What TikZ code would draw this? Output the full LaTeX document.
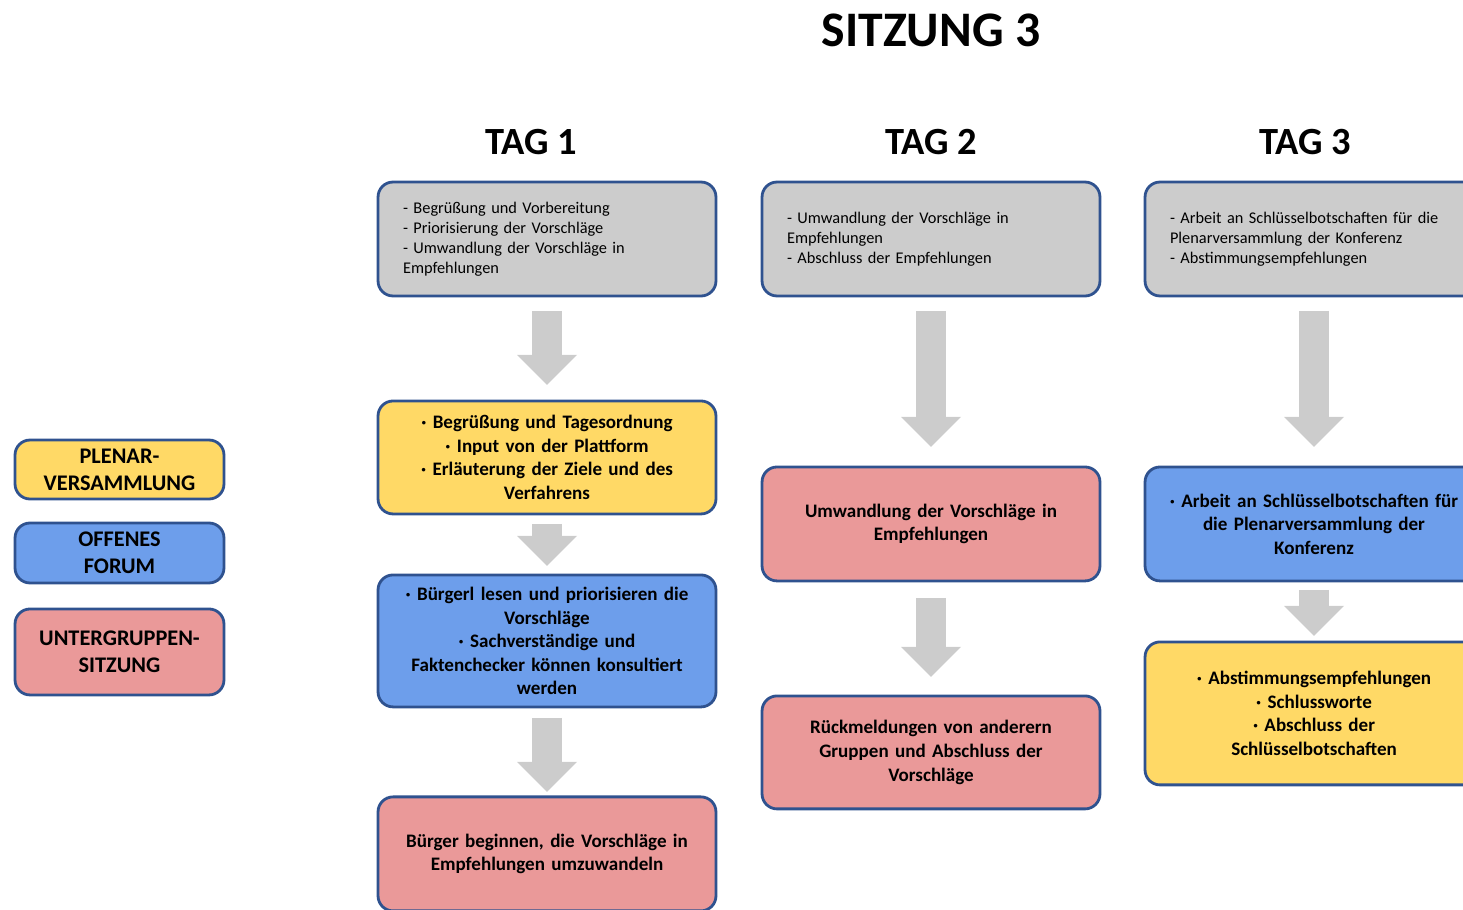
\documentclass[tikz,border=0pt]{standalone}
\usepackage{fontspec}
\setmainfont{Carlito}
\usepackage{xcolor}
\usepackage{tikz}
\usetikzlibrary{positioning}
\usetikzlibrary{arrows.meta}
\definecolor{boxgray}{HTML}{CCCCCC}
\definecolor{boxline}{HTML}{2F528F}
\definecolor{plenar}{HTML}{FFD966}
\definecolor{forum}{HTML}{6D9EEB}
\definecolor{gruppe}{HTML}{EA9999}
\tikzstyle{arrow} = [draw=boxgray, line width=0.6cm, -{Triangle[width=1.2cm,length=0.6cm,line width=0pt]}]
\tikzstyle{box} = [draw=boxline, line width=1.6pt, rounded corners=0.3cm, outer sep=0pt, inner ysep=0pt]
\tikzstyle{info} = [box, fill=boxgray, align=left, text width=5.76cm, inner xsep=0.5cm, minimum height=2.28cm, font=\fontsize{9.3}{11.4}\selectfont]
\tikzstyle{stage} = [box, align=center, text width=6.46cm, inner xsep=0.15cm, font=\fontsize{10.85}{13.4}\selectfont\bfseries]
\tikzstyle{legend} = [draw=boxline, line width=1.6pt, rounded corners=0.3cm, outer sep=0pt, minimum width=4.18cm, align=center, font=\fontsize{12.7}{15.4}\selectfont\bfseries]
\tikzstyle{title} = [font=\fontsize{28.3}{34}\selectfont\bfseries]
\tikzstyle{day} = [font=\fontsize{21.9}{26}\selectfont\bfseries]

\begin{document}
\begin{tikzpicture}[x=0.02cm, y=-0.02cm]
	\clip (0,0) rectangle (1463,909);
	
	%Titles
	\node[title] (sitzung) at (931,30) {SITZUNG 3};
	\node[day] (tag1) at (531,142) {TAG 1};
	\node[day] (tag2) at (931,142) {TAG 2};
	\node[day] (tag3) at (1305,142) {TAG 3};
	
	%Legend
	\node[legend, fill=plenar, minimum height=1.18cm] (lplenar) at (119.5,469.5) {PLENAR-\\VERSAMMLUNG};
	\node[legend, fill=forum, minimum height=1.2cm, below=0.48cm of lplenar] (lforum) {OFFENES\\FORUM};
	\node[legend, fill=gruppe, minimum height=1.72cm, below=0.52cm of lforum] (lgruppe) {UNTERGRUPPEN-\\SITZUNG};
	
	%Nodes
	\node[info] (g1) at (547,239) {- Begrüßung und Vorbereitung\\- Priorisierung der Vorschläge\\- Umwandlung der Vorschläge in\\Empfehlungen};
	\node[stage, fill=plenar, minimum height=2.26cm, below=2.1cm of g1] (t1a) {· Begrüßung und Tagesordnung\\· Input von der Plattform\\· Erläuterung der Ziele und des\\Verfahrens};
	\node[stage, fill=forum, minimum height=2.64cm, below=1.22cm of t1a] (t1b) {· Bürgerl lesen und priorisieren die\\Vorschläge\\· Sachverständige und\\Faktenchecker können konsultiert\\werden};
	\node[stage, fill=gruppe, minimum height=2.28cm, below=1.8cm of t1b] (t1c) {Bürger beginnen, die Vorschläge in\\Empfehlungen umzuwandeln};
	
	\node[info] (g2) at (931,239) {- Umwandlung der Vorschläge in\\Empfehlungen\\- Abschluss der Empfehlungen};
	\node[stage, fill=gruppe, minimum height=2.28cm, below=3.42cm of g2] (t2a) {Umwandlung der Vorschläge in\\Empfehlungen};
	\node[stage, fill=gruppe, minimum height=2.26cm, below=2.3cm of t2a] (t2b) {Rückmeldungen von anderern\\Gruppen und Abschluss der\\Vorschläge};
	
	\node[info] (g3) at (1314,239) {- Arbeit an Schlüsselbotschaften für die\\Plenarversammlung der Konferenz\\- Abstimmungsempfehlungen};
	\node[stage, fill=forum, minimum height=2.28cm, below=3.42cm of g3] (t3a) {· Arbeit an Schlüsselbotschaften für\\die Plenarversammlung der\\Konferenz};
	\node[stage, fill=plenar, minimum height=2.86cm, below=1.22cm of t3a] (t3b) {· Abstimmungsempfehlungen\\· Schlussworte\\· Abschluss der\\Schlüsselbotschaften};
	
	%Lines
	\draw[arrow, shorten <=0.3cm, shorten >=0.32cm] (g1.south) -- (t1a.north);
	\draw[arrow, shorten <=0.2cm, shorten >=0.18cm] (t1a.south) -- (t1b.north);
	\draw[arrow, shorten <=0.22cm, shorten >=0.1cm] (t1b.south) -- (t1c.north);
	\draw[arrow, shorten <=0.3cm, shorten >=0.4cm] (g2.south) -- (t2a.north);
	\draw[arrow, shorten <=0.34cm, shorten >=0.38cm] (t2a.south) -- (t2b.north);
	\draw[arrow, shorten <=0.3cm, shorten >=0.4cm] (g3.south) -- (t3a.north);
	\draw[arrow, shorten <=0.18cm, shorten >=0.12cm] (t3a.south) -- (t3b.north);
	
\end{tikzpicture}
\end{document}
